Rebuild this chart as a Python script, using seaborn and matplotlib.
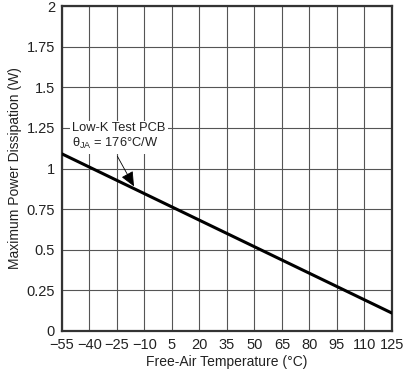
import matplotlib
matplotlib.use('Agg')
import matplotlib.pyplot as plt
import pandas as pd
import seaborn as sns

# Data
temperature = [-55, 125]
power = [1.09, 0.11]
x_ticks = [-55, -40, -25, -10, 5, 20, 35, 50, 65, 80, 95, 110, 125]
y_ticks = [0, 0.25, 0.5, 0.75, 1, 1.25, 1.5, 1.75, 2]
y_tick_labels = ['0', '0.25', '0.5', '0.75', '1', '1.25', '1.5', '1.75', '2']

df = pd.DataFrame({'Temperature': temperature, 'Power': power})

sns.set_style('white')
plt.rcParams['font.family'] = ['Liberation Sans', 'DejaVu Sans']
plt.rcParams['mathtext.fontset'] = 'custom'
plt.rcParams['mathtext.rm'] = 'Liberation Sans'

fig = plt.figure(figsize=(4.03, 3.76), dpi=100)
ax = fig.add_axes([0.1538, 0.1197, 0.8189, 0.8643])

sns.lineplot(data=df, x='Temperature', y='Power', color='black', linewidth=2.2, ax=ax, zorder=3)

ax.set_xlim(-55, 125)
ax.set_ylim(0, 2)
ax.set_xticks(x_ticks)
ax.set_yticks(y_ticks)
ax.set_yticklabels(y_tick_labels)
ax.tick_params(length=0, labelsize=10.5, colors='#222222')
ax.tick_params(axis='x', pad=5)
ax.tick_params(axis='y', pad=5)
ax.grid(True, color='#555555', linewidth=0.8)
for spine in ax.spines.values():
    spine.set_color('#333333')
    spine.set_linewidth(1.6)

ax.set_xlabel('Free-Air Temperature (°C)', fontsize=10, color='#222222', labelpad=2)
ax.set_ylabel('Maximum Power Dissipation (W)', fontsize=10, color='#222222', labelpad=3)

# Annotation with white box
ax.text(-49.5, 1.285, 'Low-K Test PCB\nθ$_{\\mathrm{JA}}$ = 176°C/W', fontsize=9.3, va='top', ha='left',
        color='#222222', linespacing=1.2,
        bbox=dict(facecolor='white', edgecolor='none', pad=1.5), zorder=4)
ax.annotate('', xy=(-15, 0.875), xytext=(-25.5, 1.09),
            arrowprops=dict(arrowstyle='-|>,head_length=0.9,head_width=0.4', color='black', lw=0.6),
            zorder=5)

plt.savefig('out.png', dpi=100)
